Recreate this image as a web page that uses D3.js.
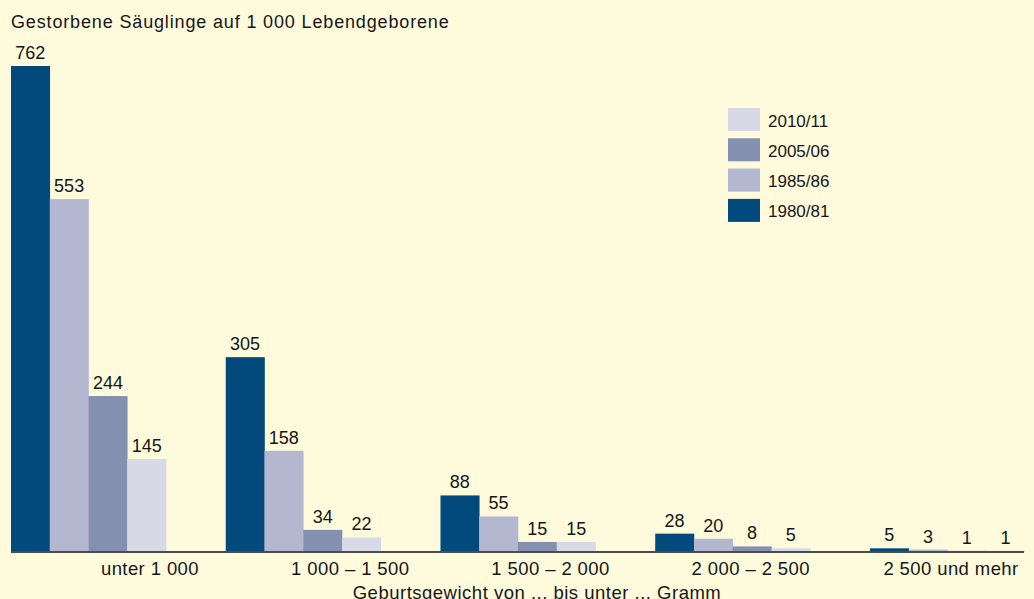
<!DOCTYPE html>
<html>
<head>
<meta charset="utf-8">
<script src="https://cdn.jsdelivr.net/npm/d3@7"></script>
<style>
  html, body { margin: 0; padding: 0; background: #FEFBDC; }
  svg { display: block; }
  text { font-family: "Liberation Sans", Arial, Helvetica, sans-serif; fill: #161616; }
</style>
</head>
<body>
<svg id="chart" width="1034" height="599"></svg>
<script>
// ---- data ----
const categories = ["unter 1 000", "1 000 – 1 500", "1 500 – 2 000", "2 000 – 2 500", "2 500 und mehr"];
const seriesNames = ["1980/81", "1985/86", "2005/06", "2010/11"];
const values1980 = [762, 305, 88, 28, 5];
const values1985 = [553, 158, 55, 20, 3];
const values2005 = [244, 34, 15, 8, 1];
const values2010 = [145, 22, 15, 5, 1];
const seriesColors = ["#02497C", "#B3B7CF", "#8390B0", "#D7D9E7"];
const legendOrder = ["2010/11", "2005/06", "1985/86", "1980/81"];
const yTitle = "Gestorbene Säuglinge auf 1 000 Lebendgeborene";
const xTitle = "Geburtsgewicht von ... bis unter ... Gramm";

const seriesValues = [values1980, values1985, values2005, values2010];

const svg = d3.select("#chart");
const W = 1034, H = 599;
svg.append("rect").attr("width", W).attr("height", H).attr("fill", "#FEFBDC");

const baseline = 551.5;
const x0 = d3.scaleBand().domain(categories).range([11, 1025]).paddingInner(0.278).paddingOuter(0);
const x1 = d3.scaleBand().domain(seriesNames).range([0, x0.bandwidth()]).padding(0);
const y = d3.scaleLinear().domain([0, 762]).range([baseline, 66]);
const color = d3.scaleOrdinal().domain(seriesNames).range(seriesColors);
const labelX = d3.scalePoint().domain(categories).range([150, 951]);

// title
svg.append("text").attr("x", 11).attr("y", 27.5).attr("font-size", 18)
  .attr("letter-spacing", 0.85).text(yTitle);

// bars
const rows = [];
categories.forEach((c, i) => {
  seriesNames.forEach((s, j) => rows.push({ cat: c, series: s, value: seriesValues[j][i] }));
});

svg.append("g").selectAll("rect").data(rows).join("rect")
  .attr("x", d => x0(d.cat) + x1(d.series))
  .attr("y", d => y(d.value))
  .attr("width", x1.bandwidth() + 0.3)
  .attr("height", d => baseline - y(d.value))
  .attr("fill", d => color(d.series));

svg.append("g").selectAll("text").data(rows).join("text")
  .attr("x", d => x0(d.cat) + x1(d.series) + x1.bandwidth() / 2)
  .attr("y", d => y(d.value) - 7)
  .attr("text-anchor", "middle")
  .attr("font-size", 18)
  .text(d => d.value);

// axis line
svg.append("line").attr("x1", 11).attr("x2", 1024).attr("y1", baseline + 0.5).attr("y2", baseline + 0.5)
  .attr("stroke", "#4d4d48").attr("stroke-width", 2);

// category labels
svg.append("g").selectAll("text").data(categories).join("text")
  .attr("x", d => labelX(d))
  .attr("y", 575)
  .attr("text-anchor", "middle")
  .attr("font-size", 18.5)
  .attr("letter-spacing", 0.4)
  .text(d => d);

// x title
svg.append("text").attr("x", 537).attr("y", 599).attr("text-anchor", "middle")
  .attr("font-size", 18.5).attr("letter-spacing", 0.5).text(xTitle);

// legend
const legend = svg.append("g").attr("transform", "translate(728,108)");
const li = legend.selectAll("g").data(legendOrder).join("g")
  .attr("transform", (d, i) => `translate(0,${i * 30.3})`);
li.append("rect").attr("width", 32).attr("height", 23).attr("fill", d => color(d));
li.append("text").attr("x", 40).attr("y", 18.5).attr("font-size", 17).text(d => d);
</script>
</body>
</html>
